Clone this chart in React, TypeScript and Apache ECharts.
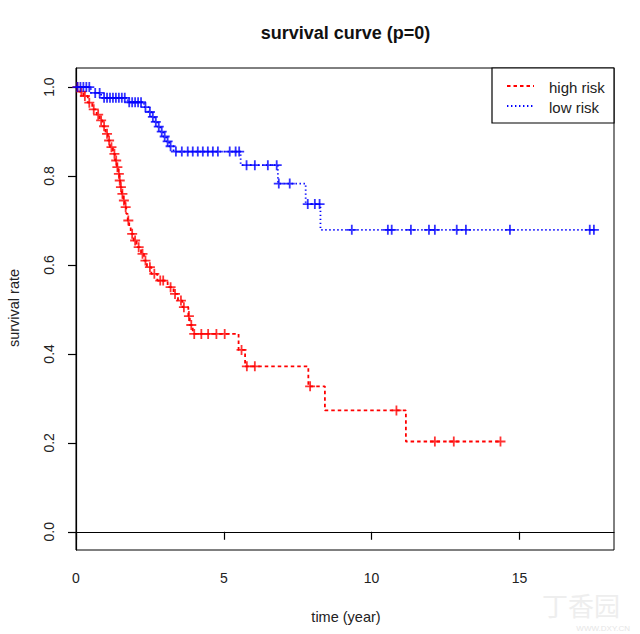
import React, { useEffect, useRef } from "react";
import * as echarts from "echarts";

const titleText = "survival curve (p=0)";
const xName = "time (year)";
const yName = "survival rate";
const seriesNames = ["high risk", "low risk"];
const xTicks = [0, 5, 10, 15];
const yTicks = [0, 0.2, 0.4, 0.6, 0.8, 1.0];

// high risk: times at which survival changes, and new survival values
const highStepTimes = [0, 0.1, 0.25, 0.4, 0.55, 0.7, 0.8, 0.9, 1.0, 1.08, 1.15, 1.25, 1.32, 1.38, 1.43, 1.47, 1.5, 1.55, 1.6, 1.65, 1.7, 1.75, 1.8, 1.85, 1.95, 2.05, 2.2, 2.3, 2.4, 2.55, 2.75, 3.1, 3.3, 3.45, 3.6, 3.8, 3.85, 3.95, 5.5, 5.72, 7.86, 8.42, 11.16];
const highStepSurv = [1.0, 0.99, 0.98, 0.965, 0.95, 0.938, 0.925, 0.912, 0.895, 0.88, 0.865, 0.85, 0.835, 0.82, 0.805, 0.79, 0.775, 0.76, 0.745, 0.73, 0.715, 0.7, 0.685, 0.67, 0.655, 0.64, 0.625, 0.61, 0.595, 0.58, 0.565, 0.55, 0.535, 0.52, 0.505, 0.485, 0.465, 0.445, 0.409, 0.372, 0.327, 0.273, 0.203];
const highEnd = 14.4;
const highCensorTimes = [0.05, 0.18, 0.3, 0.45, 0.6, 0.75, 0.85, 0.95, 1.05, 1.12, 1.2, 1.3, 1.36, 1.4, 1.45, 1.48, 1.52, 1.57, 1.62, 1.68, 1.77, 1.9, 2.0, 2.12, 2.25, 2.35, 2.5, 2.65, 2.85, 2.95, 3.2, 3.35, 3.55, 3.65, 3.82, 3.9, 4.0, 4.24, 4.47, 4.75, 5.03, 5.6, 5.78, 6.05, 7.92, 10.84, 12.14, 12.78, 14.36];

// low risk
const lowStepTimes = [0, 0.5, 0.85, 1.75, 2.3, 2.45, 2.55, 2.65, 2.75, 2.85, 2.95, 3.05, 3.15, 3.3, 5.57, 6.83, 7.77, 8.27];
const lowStepSurv = [1.0, 0.987, 0.976, 0.966, 0.955, 0.944, 0.933, 0.922, 0.911, 0.9, 0.889, 0.878, 0.867, 0.855, 0.8245, 0.783, 0.737, 0.679];
const lowEnd = 17.55;
const lowCensorTimes = [0.05, 0.15, 0.25, 0.35, 0.45, 0.65, 0.8, 0.95, 1.05, 1.15, 1.25, 1.35, 1.45, 1.55, 1.65, 1.8, 1.9, 2.0, 2.1, 2.2, 2.35, 2.5, 2.6, 2.7, 2.8, 2.9, 3.0, 3.1, 3.2, 3.38, 3.58, 3.78, 3.95, 4.12, 4.29, 4.46, 4.63, 4.8, 5.2, 5.4, 5.52, 5.77, 6.05, 6.49, 6.79, 6.86, 7.23, 7.84, 8.08, 8.24, 9.33, 10.55, 10.68, 11.33, 11.94, 12.14, 12.88, 13.19, 14.68, 17.38, 17.52];

const RED = "#ff0000";
const BLUE = "#0000ff";
const FONT = "'Liberation Sans', Arial, sans-serif";
const PLUS = "path://M4.1,0H5.9V4.1H10V5.9H5.9V10H4.1V5.9H0V4.1H4.1Z";

function stepLine(times: number[], surv: number[], end: number) {
  const d = times.map((t, i) => [t, surv[i]]);
  d.push([end, surv[surv.length - 1]]);
  return d;
}
function survAt(times: number[], surv: number[], t: number) {
  let s = surv[0];
  for (let i = 0; i < times.length; i++) if (times[i] <= t) s = surv[i];
  return s;
}
function censor(times: number[], surv: number[], cts: number[]) {
  return cts.map((t) => [t, survAt(times, surv, t)]);
}

export default function App() {
  const ref = useRef<HTMLDivElement>(null);
  useEffect(() => {
    const chart = echarts.init(ref.current!, null, { renderer: "svg" });
    const axisLabel = { color: "#222", fontSize: 14, fontFamily: FONT };
    chart.setOption({
      animation: false,
      backgroundColor: "#fff",
      grid: { left: 76, right: 26, top: 68, bottom: 84, show: true, borderColor: "#000", borderWidth: 1 },
      xAxis: {
        type: "value",
        min: 0,
        max: 18.2,
        splitLine: { show: false },
        axisLine: { show: true, lineStyle: { color: "#000", width: 1.2 } },
        axisTick: { show: true, inside: false, length: 8, customValues: xTicks, lineStyle: { color: "#000", width: 1.2 } },
        axisLabel: { ...axisLabel, margin: 21, customValues: xTicks, formatter: (v: number) => String(v) },
      },
      yAxis: {
        type: "value",
        min: -0.041,
        max: 1.043,
        splitLine: { show: false },
        axisLine: { show: true, lineStyle: { color: "#000", width: 1.2 } },
        axisTick: { show: true, inside: false, length: 8, customValues: yTicks, lineStyle: { color: "#000", width: 1.2 } },
        axisLabel: { ...axisLabel, margin: 20, rotate: 90, customValues: yTicks, formatter: (v: number) => v.toFixed(1) },
      },
      series: [
        {
          name: seriesNames[0],
          type: "line",
          step: "end",
          data: stepLine(highStepTimes, highStepSurv, highEnd),
          showSymbol: false,
          symbol: "none",
          lineStyle: { color: RED, width: 1.8, type: [3.5, 3] },
          z: 2,
        },
        {
          name: seriesNames[0] + " censored",
          type: "scatter",
          data: censor(highStepTimes, highStepSurv, highCensorTimes),
          symbol: PLUS,
          symbolSize: 10,
          itemStyle: { color: RED },
          z: 3,
        },
        {
          name: seriesNames[1],
          type: "line",
          step: "end",
          data: stepLine(lowStepTimes, lowStepSurv, lowEnd),
          showSymbol: false,
          symbol: "none",
          lineStyle: { color: BLUE, width: 1.8, type: [1.4, 2.6] },
          z: 4,
        },
        {
          name: seriesNames[1] + " censored",
          type: "scatter",
          data: censor(lowStepTimes, lowStepSurv, lowCensorTimes),
          symbol: PLUS,
          symbolSize: 10,
          itemStyle: { color: BLUE },
          z: 5,
        },
      ],
      graphic: [
        {
          type: "text",
          x: 345.5,
          y: 33,
          style: { text: titleText, fontFamily: FONT, fontSize: 18, fontWeight: "bold", fill: "#111", textAlign: "center", textVerticalAlign: "middle" },
        },
        {
          type: "text",
          x: 346,
          y: 617,
          style: { text: xName, fontFamily: FONT, fontSize: 14.5, fill: "#222", textAlign: "center", textVerticalAlign: "middle" },
        },
        {
          type: "text",
          x: 14,
          y: 308,
          rotation: Math.PI / 2,
          style: { text: yName, fontFamily: FONT, fontSize: 14.5, fill: "#222", textAlign: "center", textVerticalAlign: "middle" },
        },
        {
          type: "group",
          z: 100,
          children: [
            { type: "rect", shape: { x: 492, y: 68, width: 122, height: 55 }, style: { fill: "#fff", stroke: "#000", lineWidth: 1.2 } },
            { type: "line", shape: { x1: 507, y1: 86, x2: 534, y2: 86 }, style: { stroke: RED, lineWidth: 1.8, lineDash: [3.5, 3] } },
            { type: "line", shape: { x1: 507, y1: 106, x2: 534, y2: 106 }, style: { stroke: BLUE, lineWidth: 1.8, lineDash: [1.4, 2.6] } },
            { type: "text", x: 549, y: 87, style: { text: seriesNames[0], fontFamily: FONT, fontSize: 15, fill: "#222", textVerticalAlign: "middle" } },
            { type: "text", x: 549, y: 107, style: { text: seriesNames[1], fontFamily: FONT, fontSize: 15, fill: "#222", textVerticalAlign: "middle" } },
          ],
        },
        {
          type: "text",
          x: 620,
          y: 604,
          style: { text: "丁香园", fontFamily: "'Noto Sans CJK SC', sans-serif", fontSize: 26, fill: "#eeeeee", textAlign: "right", textVerticalAlign: "middle" },
        },
        {
          type: "text",
          x: 630,
          y: 628,
          style: { text: "WWW.DXY.CN", fontFamily: FONT, fontSize: 8, fill: "#e6e6e6", textAlign: "right", textVerticalAlign: "middle" },
        },
      ],
    });
    return () => chart.dispose();
  }, []);
  return <div ref={ref} style={{ position: "fixed", left: 0, top: 0, width: 640, height: 634, background: "#fff" }} />;
}
